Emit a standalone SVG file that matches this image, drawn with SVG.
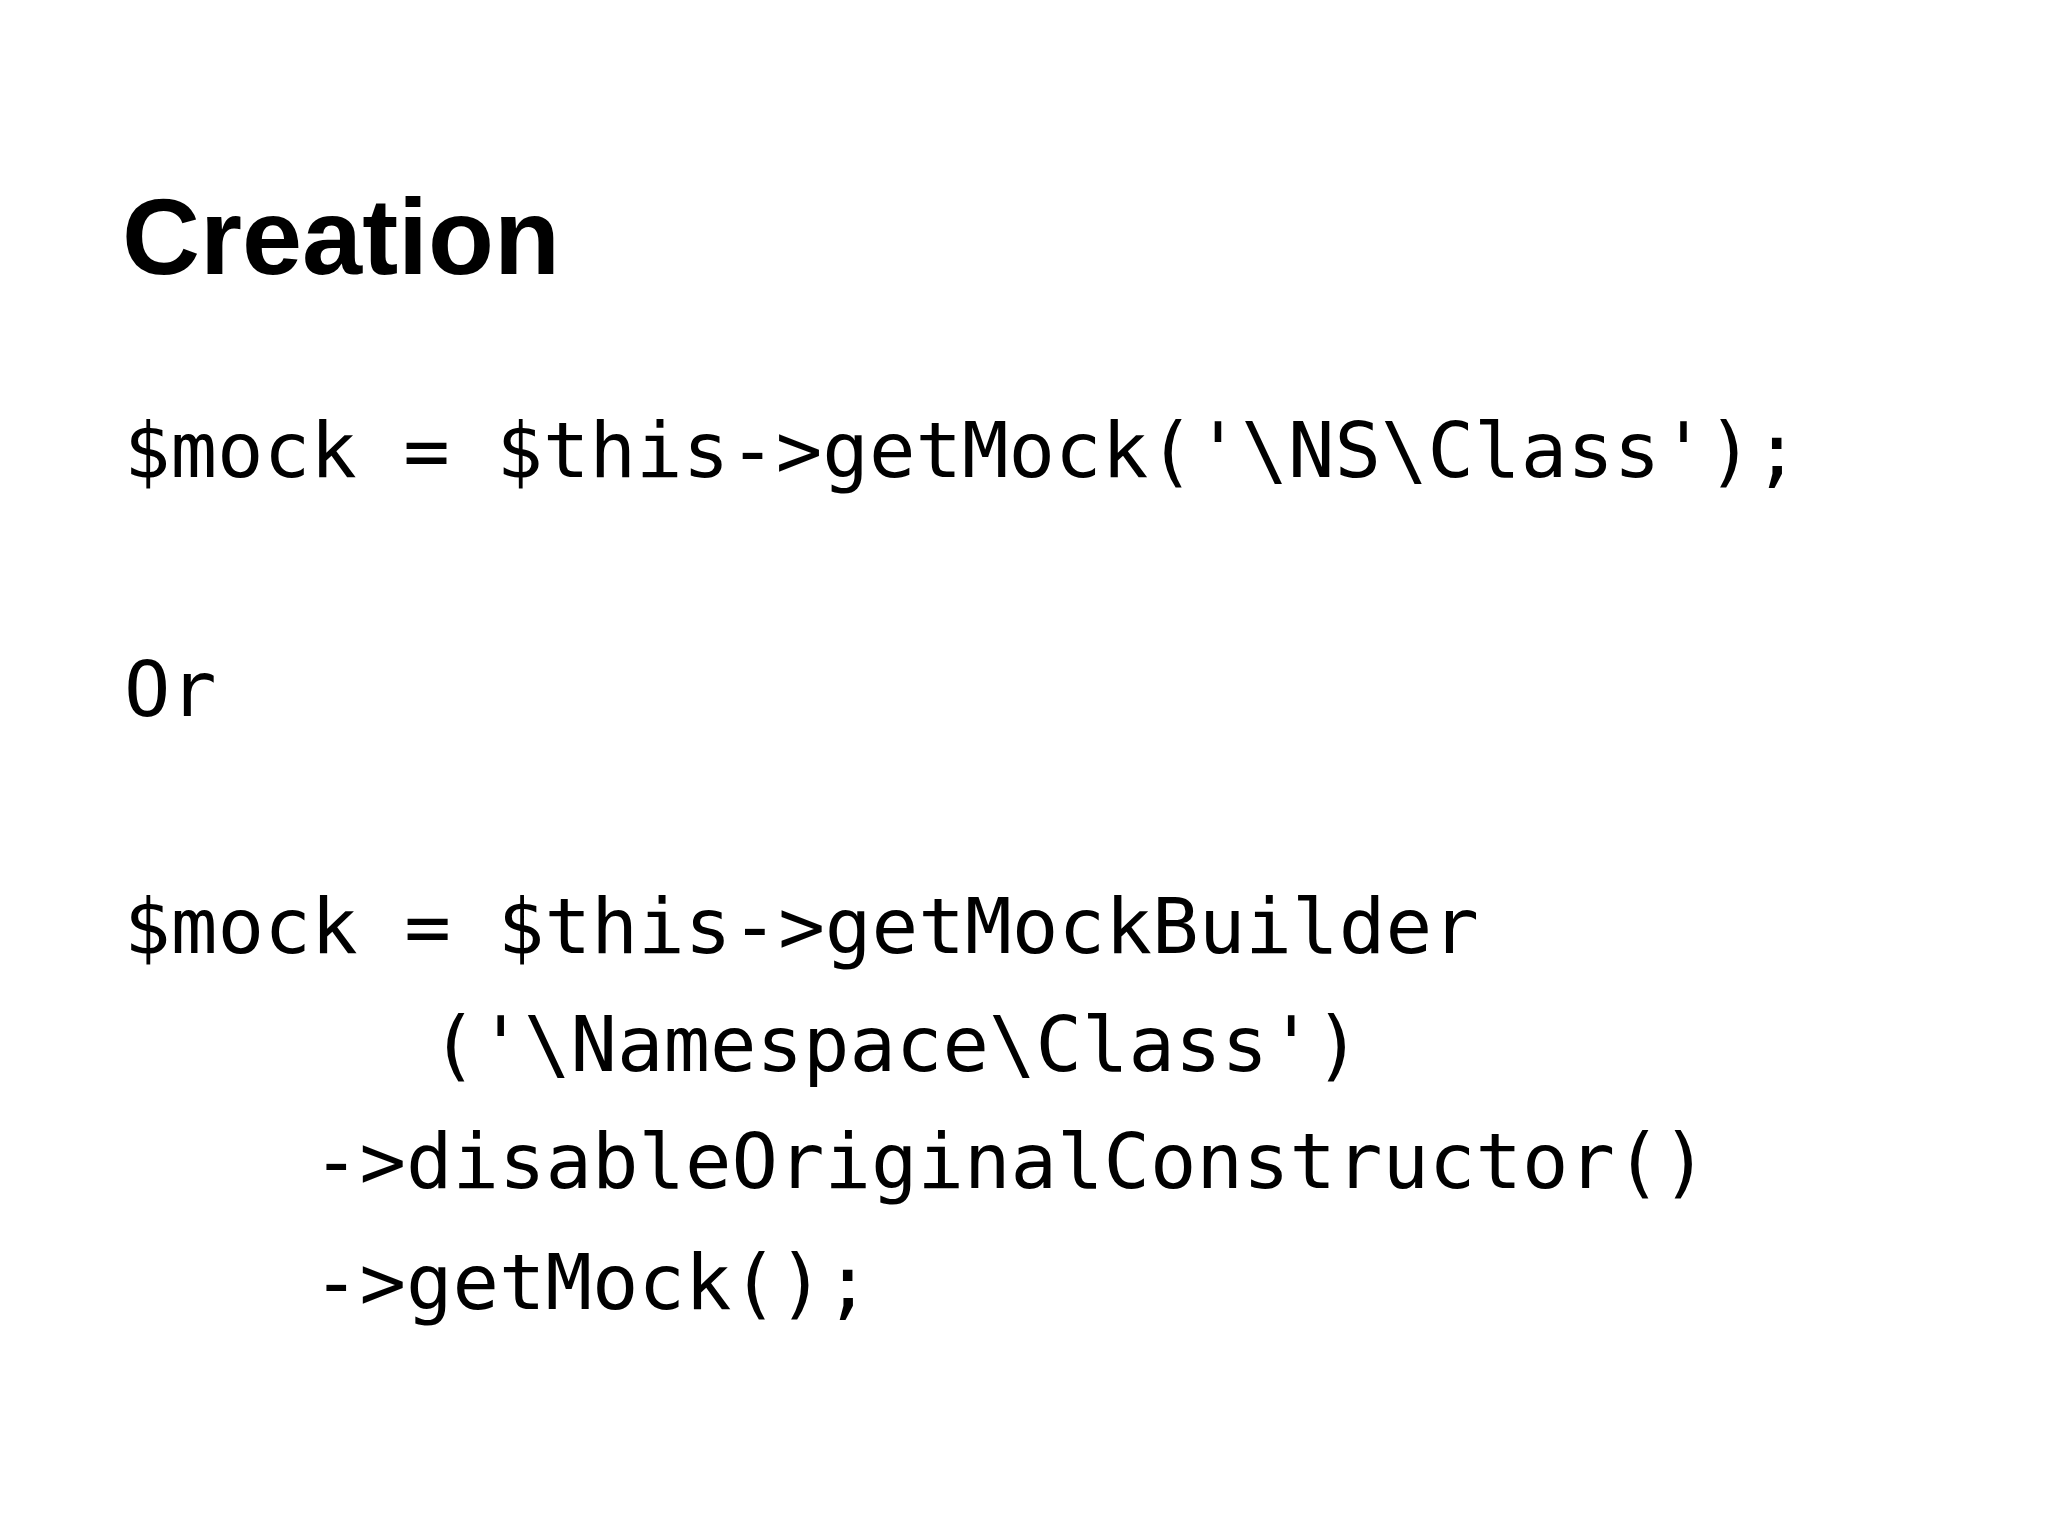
<svg xmlns="http://www.w3.org/2000/svg" width="2048" height="1536" viewBox="0 0 2048 1536">
<style>
.t{font-family:"Liberation Sans",Arial,sans-serif;font-weight:bold;font-size:108px;fill:#000}
.c{font-family:"DejaVu Sans Mono","Liberation Mono",monospace;font-size:77px;fill:#000;white-space:pre}
</style>
<rect width="2048" height="1536" fill="#fff"/>
<g id="title"><text class="t" x="122" y="274">Creation</text></g>
<g id="code">
<text class="c" x="124" y="477" textLength="1676" lengthAdjust="spacingAndGlyphs">$mock = $this-&gt;getMock('\NS\Class');</text>
<text class="c" x="124" y="716">Or</text>
<text class="c" x="124" y="953" textLength="1355" lengthAdjust="spacingAndGlyphs">$mock = $this-&gt;getMockBuilder</text>
<text class="c" x="431" y="1071" textLength="930" lengthAdjust="spacingAndGlyphs">('\Namespace\Class')</text>
<text class="c" x="313" y="1188" textLength="1395" lengthAdjust="spacingAndGlyphs">-&gt;disableOriginalConstructor()</text>
<text class="c" x="313" y="1309" textLength="558" lengthAdjust="spacingAndGlyphs">-&gt;getMock();</text>
</g>
</svg>
